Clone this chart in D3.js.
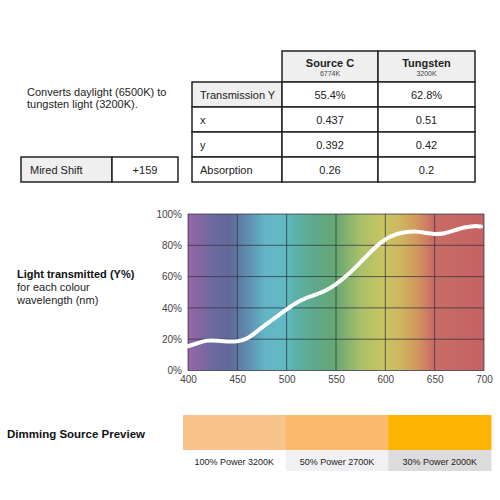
<!DOCTYPE html>
<html lang="en">
<head>
    <meta charset="UTF-8">
    <title>Filter Transmission</title>
    <script src="https://d3js.org/d3.v7.min.js"></script>
    <style>
        body { margin: 0; background: #fff; }
        svg { font-family: "Liberation Sans", Arial, sans-serif; }
    </style>
</head>
<body>
    <svg id="chart" width="500" height="500"></svg>

    <script>
        // Table data
        const tableHeaders = ["Source C", "Tungsten"];
        const tableSubHeaders = ["6774K", "3200K"];
        const rowLabels = ["Transmission Y", "x", "y", "Absorption"];
        const sourceCValues = ["55.4%", "0.437", "0.392", "0.26"];
        const tungstenValues = ["62.8%", "0.51", "0.42", "0.2"];

        // Transmission curve (wavelength nm, Y%)
        const wavelengths = [400, 410, 420, 430, 440, 450, 460, 470, 480, 490, 500,
                             510, 520, 530, 540, 550, 560, 570, 580, 590, 600,
                             610, 620, 630, 640, 650, 660, 670, 680, 690, 697];
        const transmission = [15.5, 17.5, 19.5, 19, 18.5, 18.5, 20, 25, 30, 34.5, 39,
                              43.5, 46.5, 48.5, 51, 55, 60, 66, 72.5, 79, 84,
                              87, 88.5, 89, 88, 87, 87.5, 89.5, 91.5, 92.5, 92];

        const xTicks = [400, 450, 500, 550, 600, 650, 700];
        const yTicks = [0, 20, 40, 60, 80, 100];

        // Spectrum background colours
        const spectrumStops = [400, 425, 442, 458, 478, 498, 506, 530, 550, 575, 598, 615, 632, 648, 700];
        const spectrumColors = ["#9a65a8", "#6c6a9d", "#62679a", "#5f88ad", "#62b6c5", "#63b9c3", "#5cb3ad",
                                "#5fa88a", "#67a773", "#a9c06a", "#cac462", "#ceb660", "#d3975f",
                                "#c86d66", "#c46263"];

        // Dimming preview
        const dimLabels = ["100% Power 3200K", "50% Power 2700K", "30% Power 2000K"];
        const dimColors = ["#f8c48c", "#fbba6e", "#fdb302"];
        const dimLabelFills = ["#ffffff", "#f1f1f3", "#dcdcdc"];

        const svg = d3.select("#chart");

        // ---- Intro text ----
        svg.append("text").attr("x", 27).attr("y", 96).attr("font-size", 11).attr("fill", "#222")
            .text("Converts daylight (6500K) to");
        svg.append("text").attr("x", 27).attr("y", 108).attr("font-size", 11).attr("fill", "#222")
            .text("tungsten light (3200K).");

        // ---- Mired shift box ----
        svg.append("rect").attr("x", 21).attr("y", 157).attr("width", 91).attr("height", 25)
            .attr("fill", "#efefef").attr("stroke", "#222").attr("stroke-width", 1.5);
        svg.append("rect").attr("x", 112).attr("y", 157).attr("width", 66).attr("height", 25)
            .attr("fill", "#fff").attr("stroke", "#222").attr("stroke-width", 1.5);
        svg.append("text").attr("x", 30).attr("y", 173.5).attr("font-size", 11).attr("fill", "#222")
            .text("Mired Shift");
        svg.append("text").attr("x", 145).attr("y", 173.5).attr("font-size", 11).attr("fill", "#222")
            .attr("text-anchor", "middle").text("+159");

        // ---- Table ----
        const colX = [192, 282, 378, 475];
        const headerTop = 51, rowTop = 82, rowH = 25;

        tableHeaders.forEach((h, i) => {
            svg.append("rect").attr("x", colX[i + 1]).attr("y", headerTop)
                .attr("width", colX[i + 2] - colX[i + 1]).attr("height", rowTop - headerTop)
                .attr("fill", "#efefef").attr("stroke", "#222").attr("stroke-width", 1.5);
            const cx = (colX[i + 1] + colX[i + 2]) / 2;
            svg.append("text").attr("x", cx).attr("y", 67).attr("text-anchor", "middle")
                .attr("font-size", 11).attr("font-weight", "bold").attr("fill", "#222").text(h);
            svg.append("text").attr("x", cx).attr("y", 76).attr("text-anchor", "middle")
                .attr("font-size", 7).attr("fill", "#444").text(tableSubHeaders[i]);
        });

        rowLabels.forEach((label, r) => {
            const y = rowTop + r * rowH;
            svg.append("rect").attr("x", colX[0]).attr("y", y)
                .attr("width", colX[1] - colX[0]).attr("height", rowH)
                .attr("fill", r === 0 ? "#efefef" : "#fff").attr("stroke", "#222").attr("stroke-width", 1.5);
            svg.append("text").attr("x", colX[0] + 8).attr("y", y + 16.5)
                .attr("font-size", 11).attr("fill", "#222").text(label);
            [sourceCValues[r], tungstenValues[r]].forEach((v, i) => {
                svg.append("rect").attr("x", colX[i + 1]).attr("y", y)
                    .attr("width", colX[i + 2] - colX[i + 1]).attr("height", rowH)
                    .attr("fill", "#fff").attr("stroke", "#222").attr("stroke-width", 1.5);
                svg.append("text").attr("x", (colX[i + 1] + colX[i + 2]) / 2).attr("y", y + 16.5)
                    .attr("text-anchor", "middle").attr("font-size", 11).attr("fill", "#222").text(v);
            });
        });

        // ---- Spectrum chart ----
        const x = d3.scaleLinear().domain([400, 700]).range([188, 484]);
        const y = d3.scaleLinear().domain([0, 100]).range([370.5, 214]);

        const defs = svg.append("defs");
        const grad = defs.append("linearGradient").attr("id", "spectrum")
            .attr("gradientUnits", "userSpaceOnUse")
            .attr("x1", x(400)).attr("x2", x(700)).attr("y1", 0).attr("y2", 0);
        grad.selectAll("stop").data(spectrumStops).enter().append("stop")
            .attr("offset", d => (d - 400) / 300)
            .attr("stop-color", (d, i) => spectrumColors[i]);

        svg.append("rect").attr("x", x(400)).attr("y", y(100))
            .attr("width", x(700) - x(400)).attr("height", y(0) - y(100))
            .attr("fill", "url(#spectrum)");

        // grid
        svg.append("g").selectAll("line").data(xTicks).enter().append("line")
            .attr("x1", d => x(d)).attr("x2", d => x(d))
            .attr("y1", y(0)).attr("y2", y(100))
            .attr("stroke", "#2e3440").attr("stroke-opacity", 0.75).attr("stroke-width", 1);
        svg.append("g").selectAll("line").data(yTicks).enter().append("line")
            .attr("x1", x(400)).attr("x2", x(700))
            .attr("y1", d => y(d)).attr("y2", d => y(d))
            .attr("stroke", "#2e3440").attr("stroke-opacity", 0.75).attr("stroke-width", 1);

        // axes labels
        const xAxis = svg.append("g").attr("transform", `translate(0,${y(0) + 2})`)
            .call(d3.axisBottom(x).tickValues(xTicks).tickSize(0).tickPadding(3));
        xAxis.select(".domain").remove();
        xAxis.selectAll("text").attr("font-size", 10).attr("fill", "#444")
            .attr("font-family", "Liberation Sans, Arial, sans-serif");

        const yAxis = svg.append("g").attr("transform", `translate(${x(400) - 4},0)`)
            .call(d3.axisLeft(y).tickValues(yTicks).tickSize(0).tickPadding(2).tickFormat(d => d + "%"));
        yAxis.select(".domain").remove();
        yAxis.selectAll("text").attr("font-size", 10).attr("fill", "#444")
            .attr("font-family", "Liberation Sans, Arial, sans-serif");

        // curve
        const line = d3.line()
            .x((d, i) => x(wavelengths[i]))
            .y(d => y(d))
            .curve(d3.curveBasis);
        svg.append("path").datum(transmission)
            .attr("d", line)
            .attr("fill", "none").attr("stroke", "#fff")
            .attr("stroke-width", 4).attr("stroke-linecap", "round");

        // side label
        svg.append("text").attr("x", 17).attr("y", 278).attr("font-size", 11)
            .attr("font-weight", "bold").attr("fill", "#111").text("Light transmitted (Y%)");
        svg.append("text").attr("x", 17).attr("y", 291).attr("font-size", 11)
            .attr("fill", "#222").text("for each colour");
        svg.append("text").attr("x", 17).attr("y", 304).attr("font-size", 11)
            .attr("fill", "#222").text("wavelength (nm)");

        // ---- Dimming preview ----
        const dimX = d3.scaleBand().domain(dimLabels).range([183, 491]);
        svg.append("text").attr("x", 7).attr("y", 438).attr("font-size", 11.5)
            .attr("font-weight", "bold").attr("fill", "#111").text("Dimming Source Preview");
        svg.append("g").selectAll("rect").data(dimLabels).enter().append("rect")
            .attr("x", d => dimX(d)).attr("y", 415)
            .attr("width", dimX.bandwidth() + 0.5).attr("height", 35)
            .attr("fill", (d, i) => dimColors[i]);
        svg.append("g").selectAll("rect").data(dimLabels).enter().append("rect")
            .attr("x", d => dimX(d)).attr("y", 450)
            .attr("width", dimX.bandwidth() + 0.5).attr("height", 21)
            .attr("fill", (d, i) => dimLabelFills[i]);
        svg.append("g").selectAll("text").data(dimLabels).enter().append("text")
            .attr("x", d => dimX(d) + dimX.bandwidth() / 2).attr("y", 465)
            .attr("text-anchor", "middle").attr("font-size", 9).attr("fill", "#222")
            .text(d => d);
    </script>
</body>
</html>
